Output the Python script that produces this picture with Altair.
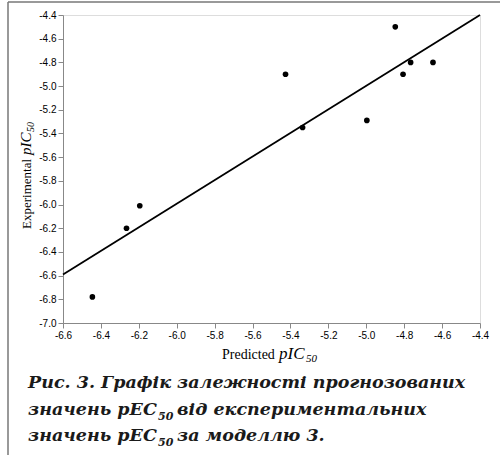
import altair as alt
import pandas as pd

# ---- data ----
predicted = [-6.445, -6.265, -6.195, -5.426, -5.336, -4.997, -4.847, -4.806, -4.766, -4.648]
experimental = [-6.78, -6.20, -6.01, -4.90, -5.35, -5.29, -4.50, -4.90, -4.80, -4.80]
fit_x = [-6.6, -4.4]
fit_y = [-6.59, -4.40]
x_ticks = [-6.6, -6.4, -6.2, -6.0, -5.8, -5.6, -5.4, -5.2, -5.0, -4.8, -4.6, -4.4]
y_ticks = [-7.0, -6.8, -6.6, -6.4, -6.2, -6.0, -5.8, -5.6, -5.4, -5.2, -5.0, -4.8, -4.6, -4.4]

caption_line1 = "Рис. 3. Графік залежності прогнозованих"
caption_line2a = "значень pEC"
caption_line2b = "від експериментальних"
caption_line3a = "значень pEC"
caption_line3b = "за моделлю 3."
sub50 = "50"

pts = pd.DataFrame({"pred": predicted, "exp": experimental})
fit = pd.DataFrame({"pred": fit_x, "exp": fit_y})

W, H = 417, 308
label_expr = "replace(format(datum.value, '.1f'), '\u2212', '-')"

xscale = alt.Scale(domain=[-6.6, -4.4], nice=False, zero=False)
yscale = alt.Scale(domain=[-7.0, -4.4], nice=False, zero=False)

xaxis = alt.Axis(values=x_ticks, labelExpr=label_expr, title=None, grid=False,
                 labelOverlap=False, labelFlush=False)
yaxis = alt.Axis(values=y_ticks, labelExpr=label_expr, title=None, grid=False,
                 labelOverlap=False, labelFlush=False)

points = alt.Chart(pts).mark_circle(size=32, color="black", opacity=1).encode(
    x=alt.X("pred:Q", scale=xscale, axis=xaxis),
    y=alt.Y("exp:Q", scale=yscale, axis=yaxis),
)

line = alt.Chart(fit).mark_line(color="black", strokeWidth=1.8).encode(
    x=alt.X("pred:Q", scale=xscale, axis=xaxis),
    y=alt.Y("exp:Q", scale=yscale, axis=yaxis),
)

one = alt.Data(values=[{"a": 1}])


def txt(s, x, y, size, font="Liberation Serif", style="normal", weight="normal",
        angle=0, color="black"):
    return alt.Chart(one).mark_text(
        text=s, align="left", baseline="alphabetic", font=font, fontSize=size,
        fontStyle=style, fontWeight=weight, angle=angle, color=color,
    ).encode(x=alt.value(x), y=alt.value(y))


OX, OY = 63, 15
texts = [
    # y axis title (rotated)
    txt("Experimental", 31 - OX, 229 - OY, 13, angle=270),
    txt("pIC", 31 - OX, 155 - OY, 15, style="italic", angle=270),
    txt(sub50, 34 - OX, 132 - OY, 10, style="italic", angle=270),
    # x axis title
    txt("Predicted", 222 - OX, 359 - OY, 14),
    txt("pIC", 279 - OX, 359 - OY, 17, style="italic"),
    txt(sub50, 306 - OX, 362 - OY, 11, style="italic"),
]

cap_font = "DejaVu Serif"
cap_col = "#1a1a1a"
CS = 17.5
texts += [
    txt(caption_line1, 28 - OX, 388 - OY, CS, font=cap_font, style="italic", weight="bold", color=cap_col),
    txt(caption_line2a, 28 - OX, 415 - OY, CS, font=cap_font, style="italic", weight="bold", color=cap_col),
    txt(sub50, 158 - OX, 420 - OY, 11, font=cap_font, style="italic", weight="bold", color=cap_col),
    txt(caption_line2b, 177 - OX, 415 - OY, CS, font=cap_font, style="italic", weight="bold", color=cap_col),
    txt(caption_line3a, 28 - OX, 441 - OY, CS, font=cap_font, style="italic", weight="bold", color=cap_col),
    txt(sub50, 158 - OX, 446 - OY, 11, font=cap_font, style="italic", weight="bold", color=cap_col),
    txt(caption_line3b, 177 - OX, 441 - OY, CS, font=cap_font, style="italic", weight="bold", color=cap_col),
]

frame_top = alt.Chart(one).mark_rule(color="#777777", strokeWidth=1.5).encode(
    x=alt.value(8 - OX), x2=alt.value(500 - OX), y=alt.value(2 - OY)
)
frame_left = alt.Chart(one).mark_rule(color="#777777", strokeWidth=1.5).encode(
    x=alt.value(8 - OX), y=alt.value(2 - OY), y2=alt.value(455 - OY)
)

chart = alt.layer(line, points, frame_top, frame_left, *texts).properties(
    width=W, height=H,
    autosize=alt.AutoSizeParams(type="none"),
    padding={"left": OX, "top": OY, "right": 500 - OX - W, "bottom": 455 - OY - H},
).configure_view(stroke=None).configure_axis(
    labelFont="Liberation Sans", labelFontSize=11, labelColor="black",
    domainColor="black", domainWidth=1.5, tickColor="black", tickSize=3,
    tickWidth=1.2, labelPadding=3, labelOverlap=False,
).configure(background="white")

chart.save("out.html", embed_options={"renderer": "svg", "actions": False})
